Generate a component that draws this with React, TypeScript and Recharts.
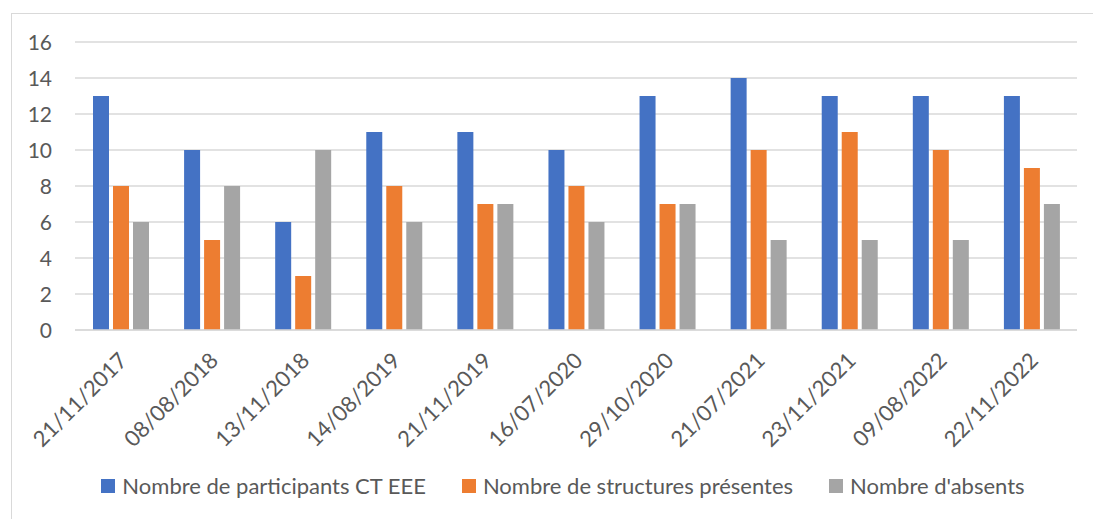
import React from 'react';
import { BarChart, Bar, XAxis, YAxis, CartesianGrid, Legend } from 'recharts';

const categories = ['21/11/2017', '08/08/2018', '13/11/2018', '14/08/2019', '21/11/2019', '16/07/2020', '29/10/2020', '21/07/2021', '23/11/2021', '09/08/2022', '22/11/2022'];
const participants = [13, 10, 6, 11, 11, 10, 13, 14, 13, 13, 13];
const structures = [8, 5, 3, 8, 7, 8, 7, 10, 11, 10, 9];
const absents = [6, 8, 10, 6, 7, 6, 7, 5, 5, 5, 7];
const yTicks = [0, 2, 4, 6, 8, 10, 12, 14, 16];

const seriesNames = ['Nombre de participants CT EEE', 'Nombre de structures présentes', "Nombre d'absents"];
const seriesColors = ['#4472C4', '#ED7D31', '#A5A5A5'];

const data = categories.map((c, i) => ({
  date: c,
  participants: participants[i],
  structures: structures[i],
  absents: absents[i],
}));

const FONT = 'Lato, "Open Sans", sans-serif';
const TEXT = '#595959';

const XTick = (props: any) => {
  const { x, y, payload } = props;
  const ax = x + 8;
  const ay = y + 30;
  return (
    <text x={ax} y={ay} transform={`rotate(-45, ${ax}, ${ay})`} textAnchor="end" fill={TEXT} fontSize={22} fontFamily={FONT}>
      {payload.value}
    </text>
  );
};

const YTick = (props: any) => {
  const { y, payload } = props;
  return (
    <text x={52} y={y} dy="0.36em" textAnchor="end" fill={TEXT} fontSize={21} fontFamily={FONT}>
      {payload.value}
    </text>
  );
};

const LegendContent = () => (
  <div style={{ display: 'flex', justifyContent: 'center', alignItems: 'center', gap: 36, fontFamily: FONT, fontSize: 22, color: TEXT, whiteSpace: 'nowrap', paddingLeft: 33 }}>
    {seriesNames.map((n, i) => (
      <div key={n} style={{ display: 'flex', alignItems: 'center' }}>
        <span style={{ display: 'inline-block', width: 14, height: 14, background: seriesColors[i], marginRight: 7 }} />
        <span>{n}</span>
      </div>
    ))}
  </div>
);

export default function App() {
  return (
    <div style={{ position: 'fixed', left: 0, top: 0, width: 1093, height: 519, background: '#fff', overflow: 'hidden' }}>
      <div style={{ position: 'absolute', left: 11, top: 13, width: 1200, height: 600, border: '1.5px solid #D9D9D9', boxSizing: 'border-box' }} />
      <div style={{ position: 'absolute', left: 0, top: 0 }}>
        <BarChart width={1093} height={519} data={data} margin={{ top: 42, right: 16, left: 0, bottom: 0 }} barSize={16} barGap={4}>
          <CartesianGrid vertical={false} stroke="#D9D9D9" strokeWidth={1.5} />
          <XAxis dataKey="date" height={189} tick={<XTick />} tickLine={false} axisLine={{ stroke: '#D9D9D9', strokeWidth: 1.5 }} interval={0} tickSize={0} />
          <YAxis width={75} domain={[0, 16]} ticks={yTicks} tick={<YTick />} tickLine={false} axisLine={false} interval={0} />
          <Legend verticalAlign="middle" layout="horizontal" wrapperStyle={{ top: 472, left: 0, width: 1093 }} content={<LegendContent />} />
          <Bar dataKey="participants" name={seriesNames[0]} fill={seriesColors[0]} isAnimationActive={false} />
          <Bar dataKey="structures" name={seriesNames[1]} fill={seriesColors[1]} isAnimationActive={false} />
          <Bar dataKey="absents" name={seriesNames[2]} fill={seriesColors[2]} isAnimationActive={false} />
        </BarChart>
      </div>
    </div>
  );
}
